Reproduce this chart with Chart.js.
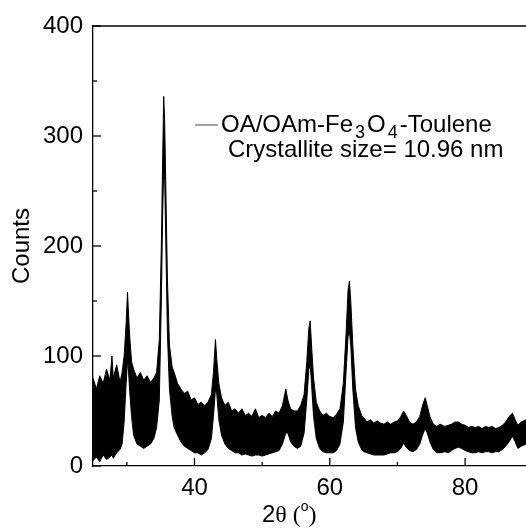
<!DOCTYPE html>
<html>
<head>
<meta charset="utf-8">
<script src="https://cdn.jsdelivr.net/npm/chart.js@4.4.0/dist/chart.umd.min.js"></script>
<style>
html, body { margin: 0; padding: 0; background: #fff; }
#wrap { width: 526px; height: 528px; }
</style>
</head>
<body>
<div id="wrap"><canvas id="xrdChart"></canvas></div>
<script>
const twoTheta = [
    25.0, 25.5, 26.0, 26.5, 27.0, 27.5, 27.8, 28.0, 28.5, 29.0, 29.3, 29.6, 29.9, 30.1, 30.2, 30.4, 30.7,
    31.0, 31.5, 32.0, 32.5, 33.0, 33.5, 34.0, 34.4, 34.8, 35.1, 35.3, 35.45, 35.6, 35.8, 36.0, 36.3, 36.7,
    37.0, 37.5, 38.0, 38.5, 39.0, 39.5, 40.0, 40.5, 41.0, 41.5, 42.0, 42.5, 42.8, 43.1, 43.3, 43.6,
    44.0, 44.5, 45.0, 45.5, 46.0, 46.5, 47.0, 47.5, 48.0, 48.5, 49.0, 49.5, 50.0, 50.5, 51.0, 51.5,
    52.0, 52.5, 53.0, 53.5, 53.8, 54.2, 54.7, 55.2, 55.7, 56.2, 56.6, 56.9, 57.1, 57.3, 57.6,
    58.0, 58.5, 59.0, 59.5, 60.0, 60.5, 61.0, 61.5, 62.0, 62.4, 62.7, 62.9, 63.1, 63.4, 63.8,
    64.2, 64.7, 65.0, 65.5, 66.0, 66.5, 67.0, 67.5, 68.0, 68.5, 69.0, 69.5, 70.0, 70.5, 70.9, 71.3,
    71.8, 72.3, 72.8, 73.3, 73.7, 74.1, 74.4, 74.8, 75.3, 75.8, 76.3, 77.0, 77.5, 78.0, 78.5, 79.0,
    79.5, 80.0, 80.5, 81.0, 81.5, 82.0, 82.5, 83.0, 83.5, 84.0, 84.5, 85.0, 85.5, 86.0, 86.5, 87.0,
    87.4, 87.8, 88.3, 89.0
];
const countsUpper = [
    80, 70, 82, 75, 88, 78, 100, 80, 92, 76, 85, 100, 130, 158, 145, 120, 95,
    88, 80, 85, 78, 82, 76, 80, 85, 115, 200, 280, 336, 312, 240, 170, 110, 90,
    85, 75, 70, 66, 68, 60, 62, 56, 58, 55, 58, 65, 85, 115, 97, 75,
    62, 55, 58, 50, 52, 48, 52, 46, 48, 45, 52, 44, 46, 44, 48, 45,
    50, 48, 55, 70, 60, 52, 50, 50, 55, 65, 95, 125, 132, 110, 80,
    58, 50, 46, 48, 45, 44, 47, 52, 75, 120, 160, 168, 150, 110, 70,
    55, 46, 44, 40, 42, 39, 41, 39, 38, 40, 38, 40, 41, 45, 50, 46,
    40, 38, 40, 45, 55, 62, 55, 45, 38, 36, 38, 36, 37, 38, 40, 40,
    38, 37, 35, 36, 35, 36, 34, 36, 35, 36, 34, 35, 37, 40, 45, 48,
    42, 37, 40, 42
];
const countsLower = [
    5, 8, 4, 10, 6, 8, 10, 7, 12, 15, 20, 40, 75, 95, 92, 70, 45,
    28, 20, 18, 16, 18, 20, 25, 35, 60, 150, 230, 270, 260, 190, 120, 70, 45,
    35, 28, 22, 18, 16, 14, 12, 12, 10, 12, 15, 25, 45, 70, 65, 42,
    28, 20, 16, 14, 12, 12, 10, 11, 10, 9, 10, 10, 9, 10, 11, 12,
    13, 14, 20, 30, 30, 22, 18, 16, 18, 30, 60, 88, 92, 75, 45,
    25, 16, 13, 12, 12, 12, 14, 20, 40, 85, 118, 122, 110, 70, 35,
    22, 15, 13, 12, 11, 10, 10, 10, 10, 11, 12, 12, 13, 16, 21, 17,
    14, 13, 15, 20, 28, 34, 30, 22, 15, 12, 12, 13, 12, 14, 16, 17,
    16, 14, 13, 12, 12, 13, 12, 13, 13, 12, 13, 13, 15, 18, 22, 27,
    22, 16, 18, 20
];

const xTicks = [40, 60, 80];
const xMinorTicks = [30, 50, 70];
const yTicks = [0, 100, 200, 300, 400];
const yMinorTicks = [50, 150, 250, 350];

const seriesName = ['OA/OAm-Fe', '3', 'O', '4', '-Toulene'];
const sizeNote = 'Crystallite size= 10.96 nm';

const SANS = '"Liberation Sans", Arial, sans-serif';
const SERIF = '"Liberation Serif", "Times New Roman", serif';

function toPoints(values) {
    return twoTheta.map((t, i) => ({ x: t, y: values[i] }));
}

// inward ticks, top frame, x title and the legend text
const decorations = {
    id: 'decorations',
    afterDraw(chart) {
        const { ctx, chartArea, scales: { x, y } } = chart;
        ctx.save();
        ctx.strokeStyle = '#000';
        ctx.lineWidth = 1.3;

        ctx.beginPath();
        ctx.moveTo(chartArea.left, chartArea.top);
        ctx.lineTo(chartArea.right, chartArea.top);
        ctx.stroke();

        const tick = (x1, y1, x2, y2) => {
            ctx.beginPath();
            ctx.moveTo(x1, y1);
            ctx.lineTo(x2, y2);
            ctx.stroke();
        };
        xTicks.forEach(v => { const px = x.getPixelForValue(v); tick(px, chartArea.bottom, px, chartArea.bottom - 8); });
        xMinorTicks.forEach(v => { const px = x.getPixelForValue(v); tick(px, chartArea.bottom, px, chartArea.bottom - 4); });
        yTicks.forEach(v => { const py = y.getPixelForValue(v); tick(chartArea.left, py, chartArea.left + 8, py); });
        yMinorTicks.forEach(v => { const py = y.getPixelForValue(v); tick(chartArea.left, py, chartArea.left + 4, py); });

        // x axis title: 2θ (°)
        ctx.fillStyle = '#000';
        ctx.textBaseline = 'alphabetic';
        ctx.textAlign = 'left';
        let tx = 262;
        const ty = 522;
        ctx.font = '24px ' + SANS;
        ctx.fillText('2', tx, ty);
        tx += ctx.measureText('2').width;
        ctx.font = '24px ' + SERIF;
        ctx.fillText('\u03B8 (', tx, ty);
        tx += ctx.measureText('\u03B8 (').width;
        ctx.font = '14px ' + SANS;
        ctx.fillText('o', tx, ty - 11);
        tx += ctx.measureText('o').width;
        ctx.font = '24px ' + SERIF;
        ctx.fillText(')', tx, ty);

        // legend line and text
        ctx.strokeStyle = '#666';
        ctx.lineWidth = 1.2;
        tick(195, 125, 218, 125);

        let lx = 221;
        const ly = 132;
        seriesName.forEach((part, i) => {
            const sub = i === 1 || i === 3;
            ctx.font = (sub ? '18px ' : '24px ') + SANS;
            ctx.fillText(part, lx + (sub ? 1 : 0), sub ? ly + 6 : ly);
            lx += ctx.measureText(part).width + (sub ? 3 : 1);
        });
        ctx.font = '24px ' + SANS;
        ctx.fillText(sizeNote, 228, 157);
        ctx.restore();
    }
};

const chart = new Chart(document.getElementById('xrdChart'), {
    type: 'line',
    data: {
        datasets: [
            {
                label: 'lower',
                data: toPoints(countsLower),
                borderColor: '#000',
                borderWidth: 1,
                pointRadius: 0,
                fill: false
            },
            {
                label: 'upper',
                data: toPoints(countsUpper),
                borderColor: '#000',
                borderWidth: 1,
                backgroundColor: '#000',
                pointRadius: 0,
                fill: '-1'
            }
        ]
    },
    options: {
        responsive: true,
        maintainAspectRatio: false,
        animation: false,
        devicePixelRatio: 1,
        layout: { padding: { top: 26, right: 0, left: 0, bottom: 0 } },
        plugins: {
            legend: { display: false },
            tooltip: { enabled: false }
        },
        scales: {
            x: {
                type: 'linear',
                min: 25,
                max: 89,
                afterFit: s => { s.height = 62; },
                afterBuildTicks: s => { s.ticks = xTicks.map(v => ({ value: v })); },
                grid: { display: false, drawTicks: false },
                border: { display: true, color: '#000', width: 1.3 },
                ticks: { color: '#000', padding: 8, font: { family: SANS, size: 24 } }
            },
            y: {
                min: 0,
                max: 400,
                afterFit: s => { s.width = 93; },
                afterBuildTicks: s => { s.ticks = yTicks.map(v => ({ value: v })); },
                grid: { display: false, drawTicks: false },
                border: { display: true, color: '#000', width: 1.3 },
                ticks: { color: '#000', padding: 10, font: { family: SANS, size: 24 } },
                title: {
                    display: true,
                    text: 'Counts',
                    color: '#000',
                    padding: { top: 8, bottom: 0 },
                    font: { family: SANS, size: 24 }
                }
            }
        }
    },
    plugins: [decorations]
});
</script>
</body>
</html>
